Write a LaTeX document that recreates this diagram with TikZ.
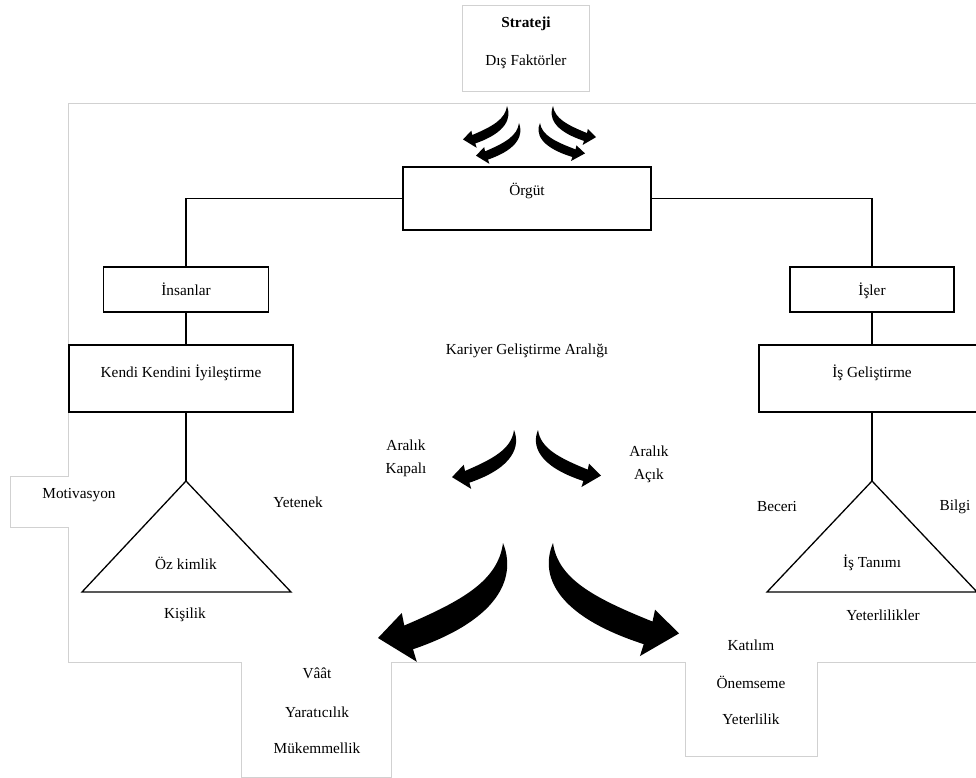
\documentclass[tikz,border=0pt]{standalone}
\usepackage{fontspec}
\setmainfont{Liberation Serif}
\definecolor{frame}{gray}{0.82}
\begin{document}
\begin{tikzpicture}[x=1pt,y=-1pt,
  font=\fontsize{15.3}{23}\selectfont,
  box/.style={draw=black, line width=1.7pt, inner sep=0pt, text height=11pt, anchor=center},
  conn/.style={draw=black, line width=1.7pt},
  tri/.style={draw=black, line width=1.3pt},
  outline/.style={draw=frame, line width=0.9pt},
  txt/.style={inner sep=0pt, anchor=center, align=center},
  carrow/.pic={\fill[black] (0,0) .. controls (0.1,0.25) and (0.01,0.6) .. (-0.72,0.85)
      -- (-0.69,0.95) -- (-1,0.76) -- (-0.81,0.56) -- (-0.79,0.66)
      .. controls (-0.32,0.46) and (-0.04,0.3) .. (0,0) -- cycle;}
]
\path[use as bounding box, clip] (0,0) rectangle (976,778);
\fill[white] (0,0) rectangle (976,778);

% light frame outline
\draw[outline] (980,103) -- (68,103) -- (68,476) -- (10,476) -- (10,527) -- (68,527)
  -- (68,662) -- (241,662) -- (241,777) -- (391,777) -- (391,662) -- (685,662)
  -- (685,756) -- (817,756) -- (817,662) -- (980,662);
\node[draw=frame, line width=0.8pt, minimum width=127pt, minimum height=86pt, inner sep=0pt] (strbox) at (525.5,48) {};
\node[txt, font=\fontsize{15.3}{23}\selectfont\bfseries] (strateji) at (526,24) {Strateji};
\node[txt] (dis) at (526,62) {Dış Faktörler};

% boxes
\node[box, minimum width=248pt, minimum height=63pt, text depth=16pt] (orgut) at (527,198.5) {Örgüt};
\node[box, minimum width=165pt, minimum height=45pt, text depth=0pt] (insan) at (186,289.5) {İnsanlar};
\node[box, minimum width=224pt, minimum height=67pt, text depth=14pt] (kendi) at (181,378.5) {Kendi Kendini İyileştirme};
\node[box, minimum width=164pt, minimum height=45pt, text depth=0pt] (isler) at (872,289.5) {İşler};
\node[box, minimum width=226pt, minimum height=67pt, text depth=14pt] (isgel) at (872,378.5) {İş Geliştirme};

% connectors
\draw[conn] (orgut.west) -| (insan.north);
\draw[conn] (orgut.east) -| (isler.north);
\draw[conn] (insan.south) -- (insan.south |- kendi.north);
\draw[conn] (isler.south) -- (isler.south |- kendi.north);
\coordinate (tl) at (186,481);
\coordinate (tr) at (872,481);
\draw[conn] (insan.south |- kendi.south) -- (tl);
\draw[conn] (isler.south |- isgel.south) -- (tr);

% triangles
\draw[tri] (tl) -- (82,592) -- (291,592) -- cycle;
\draw[tri] (tr) -- (767,592) -- (977,592) -- cycle;

% texts
\node[txt] (kariyer) at (527,351) {Kariyer Geliştirme Aralığı};
\node[txt] (kapali) at (406,458) {Aralık\\Kapalı};
\node[txt] (acik) at (649,464) {Aralık\\Açık};
\node[txt] (motiv) at (79,495) {Motivasyon};
\node[txt] (yetenek) at (298,502) {Yetenek};
\node[txt] (ozk) at (186,563) {Öz kimlik};
\node[txt] (kisilik) at (185,615) {Kişilik};
\node[txt] (beceri) at (777,507) {Beceri};
\node[txt] (bilgi) at (955,507) {Bilgi};
\node[txt] (istan) at (872,563) {İş Tanımı};
\node[txt] (yeterlikler) at (883,615) {Yeterlilikler};
\node[txt] (katilim) at (751,645) {Katılım};
\node[txt] (onem) at (751,682) {Önemseme};
\node[txt] (yeterlik) at (751,719) {Yeterlilik};
\node[txt] (vaat) at (317,673) {Vâât};
\node[txt] (yarat) at (317,712) {Yaratıcılık};
\node[txt] (mukem) at (317,748) {Mükemmellik};

% curved arrows
\pic[scale=44] at (507,106) {carrow};
\pic[scale=43] at (519,123) {carrow};
\pic[xscale=-43, yscale=41] at (553,106) {carrow};
\pic[xscale=-45, yscale=40] at (540,123) {carrow};
\pic[scale=62] at (514,430) {carrow};
\pic[xscale=-63, yscale=60] at (538,430) {carrow};
\pic[scale=125] at (503,543) {carrow};
\pic[xscale=-126, yscale=119] at (553,543) {carrow};
\end{tikzpicture}
\end{document}
